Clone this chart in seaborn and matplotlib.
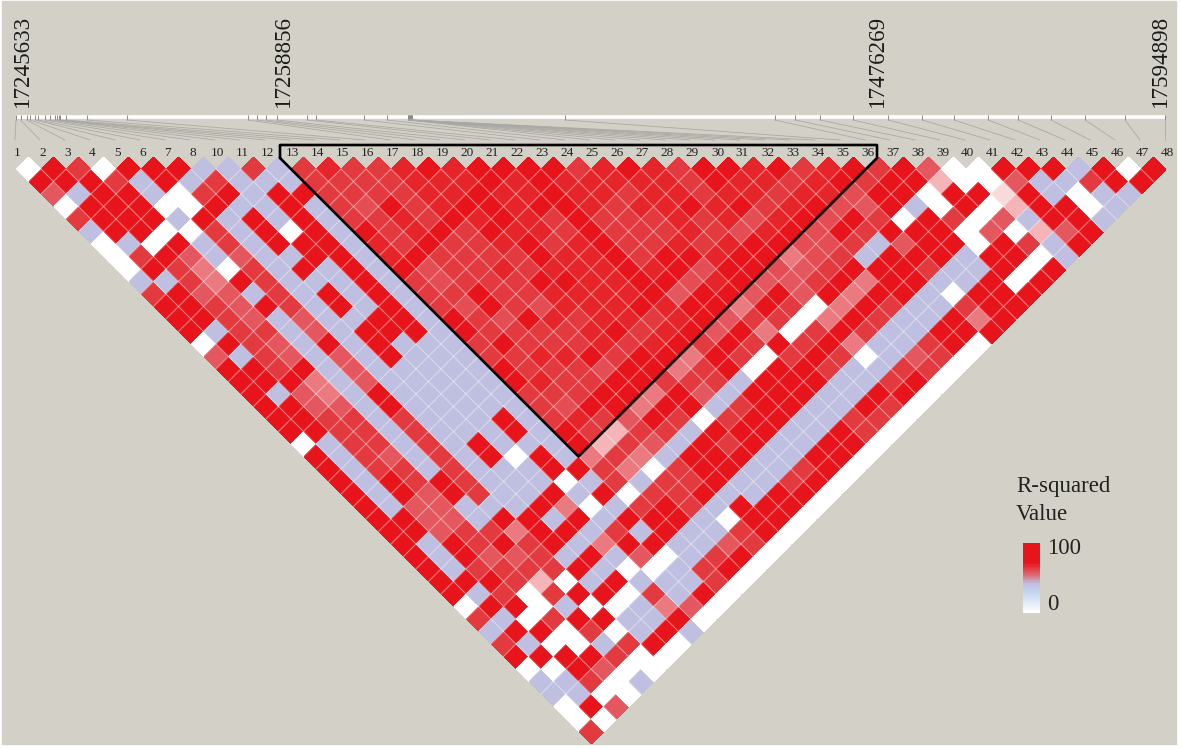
import matplotlib
matplotlib.use("Agg")
import matplotlib.pyplot as plt
from matplotlib.colors import LinearSegmentedColormap
from matplotlib.patches import Rectangle
from matplotlib.transforms import Affine2D
import numpy as np
import seaborn as sns

# snp numbers written over the triangle (9 is not there)
snp_labels = [1, 2, 3, 4, 5, 6, 7, 8] + list(range(10, 49))
# distance from the first snp along the region, in kb
snp_kb = [0, 1.4, 3.2, 4.3, 5.9, 6.7, 8.8, 10.3, 11.9, 12.5, 13.1, 13.223,
          15.2, 21.6, 33.7, 70.5, 73.3, 76.0, 79.3, 88.5, 91.2, 105.8, 112.8,
          119.2, 119.3, 119.5, 119.6, 119.8, 119.9, 120.1, 120.2, 120.4, 120.5,
          166.9, 230.636, 236.8, 244.4, 254.4, 265.1, 275.4, 285.1, 295.5,
          304.6, 314.6, 325.0, 337.1, 349.265]
pos_labels = ["17245633", "17258856", "17476269", "17594898"]
pos_label_x = [22, 283, 877, 1160]

# r-squared of each shade used below
shade = {"W": 0, "B": 8, "e": 22, "d": 35, "c": 55, "b": 68, "t": 75, "a": 82, "S": 92, "R": 100}

# one string per horizontal row of the triangle, top row first
ld_rows = [
    "WRaWRRRBBaB" + "aSaaSRSRRRRaSRSaRRSRaSR" + "aRbWWRRRBRWR",
    "RRRaBRBaBBB" + "aaaaSSSRSRSSSSSaRSSaSR" + "aRRdWWbBBaRR",
    "bBRRBWaRBRR" + "aaaaSSRSSRSSaSSaSSaSS" + "tRRWRReRBWBB",
    "WRRRWWRBBRB" + "atRaSRRSRRSaSSRSRaSR" + "tbRBWRWdRRWB",
    "aRRRBRBRBRB" + "aaSaRSRSaRaaaSaStSR" + "tRaWRaWbBRRB",
    "BRRWWaBRWRB" + "RaSRaRSSaRaaaSatSR" + "tRaRRRWbWdbR",
    "WBWRBaBRRRB" + "SaRaaSRaSRaaSaSRR" + "ttaBbRRWRaBR",
    "WaRbBbBBRRB" + "SRaaaaRSSRaRRSRR" + "ctaBRRRBRRWB",
    "WRacWaBRBRB" + "RtaaSaSSSRSRtRR" + "tbaRRRaBBRWR",
    "BBacRaBBBRB" + "ataaaRRSSRRtSR" + "bbaRcRRBBRWR",
    "aRbbBaBRBRB" + "aaRaaSSSSRbRR" + "bRbRcRRBWRRR",
    "RRabRaBRBRB" + "atRatSSSRSRR" + "cRaWcRaBBaRR",
    "RRabBbBBRRB" + "RatRSaSSaSR" + "baaWcRaBBRcR",
    "RBaaBbBRRRB" + "RaaaaSRaSR" + "bRcWaRaBBRRR",
    "WRabBRBRBBB" + "aRaaaSaSR" + "aRaRaRcBBaRW",
    "bBabBbBRBBB" + "aaSSRaRR" + "cRaWaRaWBbaW",
    "RRaRBbBBBBB" + "RaaatRR" + "caRWRRaBBaaW",
    "RRRcBbBBBBB" + "RSaaRR" + "aaaBRRRBBaRW",
    "RBbcBRBBBBB" + "aaaRR" + "cRbBRRRBBRRW",
    "RRbbBRBBBBB" + "atRR" + "cRRBaRRBBRaW",
    "RRaaBaBBBRB" + "aSa" + "bRaWaRRBBaaW",
    "RRaaBaBBBRB" + "Ra" + "daaBRRRBBRaW",
    "WBaaBaBRBBB" + "R" + "dabBRaRBBRRW",
    "RBabBaBRWRB" + "cacBRRRBBRRW",
    "RBaaBaBBBRR" + "acWaRRBBaRW",
    "RBRaRaBBBWB" + "aBaaRBBaRW",
    "RBRbRaBBRBR" + "WaaRBBRRW",
    "RBbbBBBRcWB" + "aRaBRRRW",
    "RRbbBRRBRBR" + "RRBWRRW",
    "RRbaacRRBaB" + "RBBaRW",
    "RBRaRaRBcRR" + "BBbaW",
    "RBRbbaBRBbW" + "BaRW",
    "RBaaaaRBWWB" + "aRW",
    "RRRadWBRBBBaW",
    "RBaWaRRWaBRW",
    "WRRWBWWBcbW",
    "aBWaRRBBRW",
    "BRRWaWBRB",
    "aBWWBaRW",
    "RRRRaWW",
    "WWRbWW",
    "BBaWB",
    "BBWW",
    "WRb",
    "WW",
    "a",
]

# haplotype block outlined in black, first and last snp index
block_first, block_last = 11, 34

n = len(snp_labels)
bg = "#D3D0C8"
step = 25
x0, y0 = 28.5, 169

ld_cmap = LinearSegmentedColormap.from_list("ld", [
    (0.0, "#FFFFFF"), (0.08, "#BEBEE0"), (0.081, "#FBE4E4"), (0.22, "#F9DADA"), (0.35, "#F4B4B8"),
    (0.55, "#EA7A80"), (0.68, "#E5575E"), (0.75, "#E34E54"), (0.82, "#E23A3F"),
    (0.92, "#E6252B"), (1.0, "#E8141C")])
legend_cmap = LinearSegmentedColormap.from_list("ld_legend", [
    (0.0, "#FFFFFF"), (0.28, "#C6D8F0"), (0.42, "#BEBEE0"), (0.56, "#E0606A"),
    (0.72, "#E8141C"), (1.0, "#E8141C")])

matrix = np.full((n, n), np.nan)
for r, row in enumerate(ld_rows):
    assert len(row) == n - 1 - r, (r, len(row))
    for i, code in enumerate(row):
        matrix[i, i + r + 1] = shade[code]

sns.set_theme(style="white")
plt.rcParams["font.family"] = ["Liberation Serif", "DejaVu Serif"]

fig = plt.figure(figsize=(11.81, 7.48), dpi=100, facecolor="white")
ax = fig.add_axes([0, 0, 1, 1])
sns.heatmap(matrix, ax=ax, mask=np.isnan(matrix), cmap=ld_cmap, vmin=0, vmax=100, cbar=False,
            xticklabels=False, yticklabels=False)
# turn the square matrix by 45 degrees, matrix row = first snp, column = second snp
half = step / 2
turn = Affine2D.from_values(half, half, half, -half, x0 - 2 * half, y0 - half) + ax.transData
mesh = ax.collections[0]
mesh.set_zorder(2)
mesh.set_transform(turn)

# thin pale lines between the cells
for k in range(1, n):
    ax.plot([k, k], [0, k - 1], color="white", alpha=0.42, lw=0.8, transform=turn, zorder=2.5)
    ax.plot([k + 1, n], [k, k], color="white", alpha=0.42, lw=0.8, transform=turn, zorder=2.5)

ax.set_xlim(0, 1181)
ax.set_ylim(748, 0)
ax.set_aspect("auto")
ax.set_facecolor("white")
ax.add_patch(Rectangle((2, 1), 1174, 743, color=bg, zorder=0))

# band with the physical positions
band_left, band_right = 16, 1165
tick_x = band_left + np.array(snp_kb) / snp_kb[-1] * (band_right - band_left)
ax.plot([band_left, band_right], [117, 117], color="white", lw=2.6, zorder=1, solid_capstyle="butt")
ax.vlines(tick_x, 115, 120, color="#8A8A86", lw=0.7, zorder=1)
for k in range(n):
    ax.plot([tick_x[k], 15 + step * k], [120, 140], color="#A8A6A0", lw=0.55, zorder=1)
    ax.text(17.5 + step * k, 153, str(snp_labels[k]), ha="center", va="center", fontsize=9.5, color="#222222")

for lx, label in zip(pos_label_x, pos_labels):
    ax.text(lx, 107, label, rotation=90, ha="center", va="bottom", fontsize=16.6, color="#1A1A1A")

# outline of the block
apex_x = x0 + step * (block_first + block_last - 1) / 2
apex_y = y0 + half * (block_last - block_first)
top_y = y0 - 11
rise = apex_y - top_y
ax.plot([apex_x - rise, apex_x - rise, apex_x + rise, apex_x + rise, apex_x, apex_x - rise],
        [top_y, 145, 145, top_y, apex_y, top_y], color="black", lw=1.9, zorder=3, solid_joinstyle="round")

# colour legend
ax.text(1016, 486, "R-squared", ha="left", va="center", fontsize=16.5, color="#222222")
ax.text(1016, 514, "Value", ha="left", va="center", fontsize=16.5, color="#222222")
ax.text(1047, 548, "100", ha="left", va="center", fontsize=16.5, color="#222222")
ax.text(1047, 605, "0", ha="left", va="center", fontsize=16.5, color="#222222")
lax = fig.add_axes([1023 / 1181, 1 - 613 / 748, 17 / 1181, 70 / 748])
scale_values = np.arange(100, -1, -1).reshape(-1, 1)
sns.heatmap(scale_values, ax=lax, cmap=legend_cmap, vmin=0, vmax=100, cbar=False,
            xticklabels=False, yticklabels=False)

fig.savefig("out.png", dpi=100)
